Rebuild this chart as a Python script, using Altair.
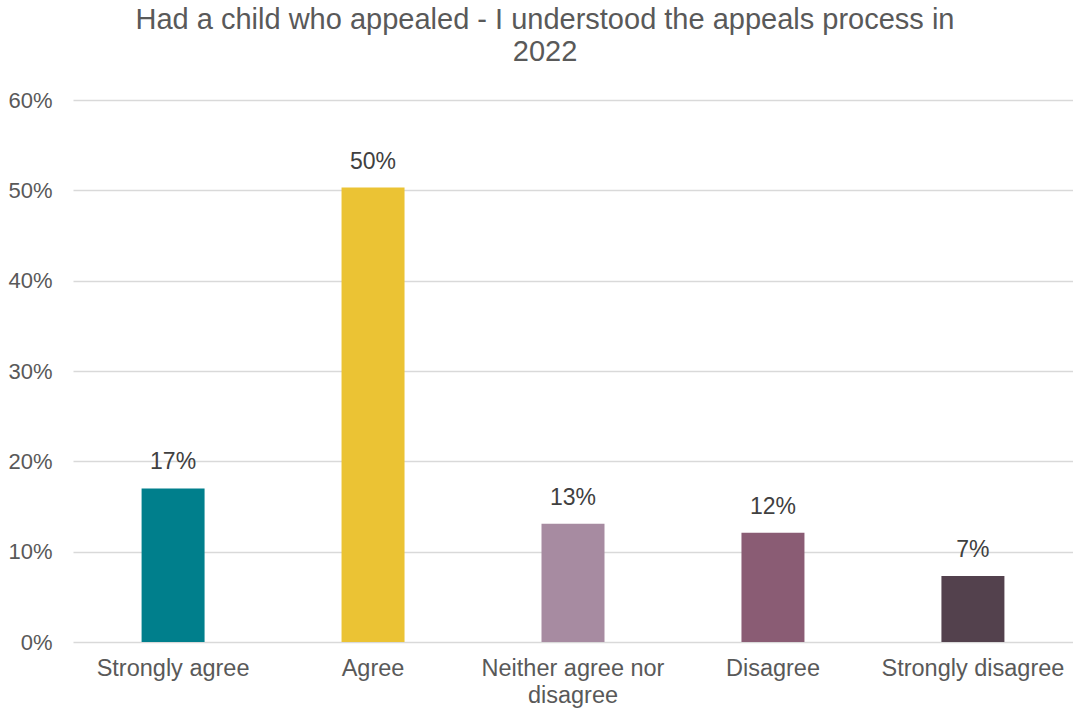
import altair as alt
import pandas as pd

categories = ["Strongly agree", "Agree", "Neither agree nor disagree", "Disagree", "Strongly disagree"]
values = [0.17, 0.503, 0.131, 0.121, 0.073]
labels = ["17%", "50%", "13%", "12%", "7%"]
colors = ["#007F8C", "#EBC334", "#A78BA1", "#8A5C74", "#53414D"]

df = pd.DataFrame({"cat": categories, "val": values, "lab": labels, "col": colors})

FONT = "Liberation Sans"
GREY = "#595959"

x = alt.X("cat:N", sort=categories, title=None,
          scale=alt.Scale(paddingInner=0.685, paddingOuter=0.343),
          axis=alt.Axis(labelAngle=0, labelFontSize=23.5, labelColor=GREY, labelFont=FONT,
                        domain=False, ticks=False, labelPadding=14, labelLineHeight=27,
                        labelLimit=400,
                        labelExpr="datum.value == 'Neither agree nor disagree' ? ['Neither agree nor', 'disagree'] : datum.value"))
y = alt.Y("val:Q", title=None,
          scale=alt.Scale(domain=[0, 0.6], nice=False),
          axis=alt.Axis(format=".0%", values=[0, 0.1, 0.2, 0.3, 0.4, 0.5, 0.6],
                        labelFontSize=22, labelColor=GREY, labelFont=FONT,
                        domain=False, ticks=False, labelPadding=21,
                        gridColor="#D9D9D9", gridWidth=1.5))

bars = alt.Chart(df).mark_bar().encode(
    x=x, y=y, color=alt.Color("col:N", scale=None)
)
text = alt.Chart(df).mark_text(dy=-14, baseline="bottom", fontSize=23, font=FONT, color="#404040").encode(
    x=alt.X("cat:N", sort=categories), y="val:Q", text="lab:N"
)

chart = alt.layer(bars, text).properties(
    width=1000, height=542,
    autosize=alt.AutoSizeParams(type="none"),
    padding={"left": 73, "top": 100, "right": 0, "bottom": 66},
    title=alt.TitleParams(
        text=["Had a child who appealed - I understood the appeals process in", "2022"],
        fontSize=29, font=FONT, color=GREY, fontWeight="normal",
        anchor="middle", frame="group", dx=-28, lineHeight=32, offset=22
    )
).configure_view(stroke=None)

chart.save("out.html", embed_options={"renderer": "svg", "actions": False})
